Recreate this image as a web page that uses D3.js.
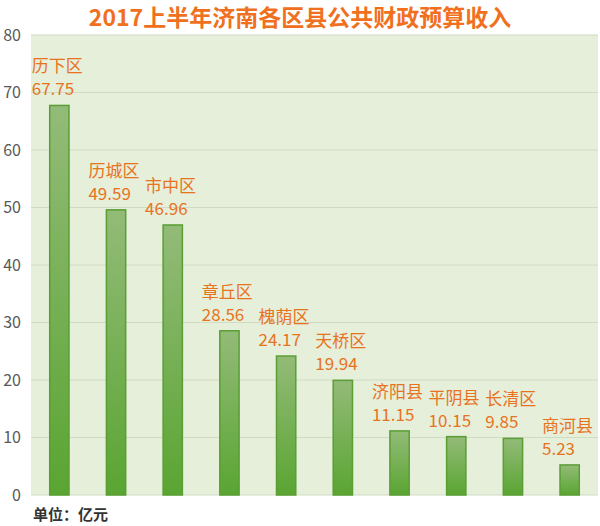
<!DOCTYPE html>
<html><head><meta charset="utf-8">
<script src="https://cdn.jsdelivr.net/npm/d3@7"></script>
<style>body{margin:0;background:#fff}text{font-family:"Noto Sans CJK SC","Liberation Sans",sans-serif}</style>
</head><body><svg id="chart" width="600" height="526"></svg>
<script>
var districts = ['历下区','历城区','市中区','章丘区','槐荫区','天桥区','济阳县','平阴县','长清区','商河县'];
var revenue = [67.75, 49.59, 46.96, 28.56, 24.17, 19.94, 11.15, 10.15, 9.85, 5.23];
var yTicks = [0,10,20,30,40,50,60,70,80];

var svg = d3.select('#chart');
var plotLeft = 31, plotRight = 598, plotTop = 35, plotBottom = 495;

var x = d3.scaleBand().domain(districts).range([plotLeft, plotRight]).paddingInner(0.66).paddingOuter(0.33);
var y = d3.scaleLinear().domain([0, 80]).range([plotBottom, plotTop]);

var defs = svg.append('defs');
var grad = defs.append('linearGradient').attr('id','g').attr('x1',0).attr('y1',0).attr('x2',0).attr('y2',1);
grad.append('stop').attr('offset','0%').attr('stop-color','#93bb78');
grad.append('stop').attr('offset','100%').attr('stop-color','#5aa532');

svg.append('rect').attr('x', plotLeft).attr('y', plotTop).attr('width', plotRight - plotLeft).attr('height', plotBottom - plotTop).attr('fill', '#e6efda');

svg.selectAll('.grid').data(yTicks).enter().append('line')
  .attr('x1', plotLeft).attr('x2', plotRight).attr('y1', d => y(d)).attr('y2', d => y(d))
  .attr('stroke', '#cfdcc2').attr('stroke-width', 1);

svg.append('g').attr('transform', 'translate(' + (plotLeft - 10) + ',0)')
  .call(d3.axisLeft(y).tickValues(yTicks).tickSize(0).tickPadding(0))
  .call(g => g.select('.domain').remove())
  .selectAll('text').attr('font-size', 16).attr('fill', '#595959').attr('font-family','Liberation Sans');

svg.selectAll('.bar').data(revenue).enter().append('rect')
  .attr('x', (d, i) => x(districts[i])).attr('width', x.bandwidth())
  .attr('y', d => y(d)).attr('height', d => plotBottom - y(d))
  .attr('fill', 'url(#g)').attr('stroke', '#5a9e35').attr('stroke-width', 1.5);

svg.selectAll('.name').data(revenue).enter().append('text')
  .attr('x', (d, i) => x(districts[i]) - 18).attr('y', d => y(d) - 33)
  .attr('font-size', 17).attr('fill', '#e8731e').text((d, i) => districts[i]);

svg.selectAll('.val').data(revenue).enter().append('text')
  .attr('x', (d, i) => x(districts[i]) - 18).attr('y', d => y(d) - 10)
  .attr('font-size', 17).attr('fill', '#e8731e').attr('font-family','Liberation Sans')
  .text(d => d.toFixed(2));

svg.append('text').attr('x', 300).attr('y', 26).attr('text-anchor', 'middle')
  .attr('font-size', 23).attr('font-weight', 'bold').attr('fill', '#f07020')
  .text('2017上半年济南各区县公共财政预算收入');

svg.append('text').attr('x', 33).attr('y', 520).attr('font-size', 15).attr('font-weight', 'bold')
  .attr('fill', '#333').text('单位：亿元');
</script></body></html>
